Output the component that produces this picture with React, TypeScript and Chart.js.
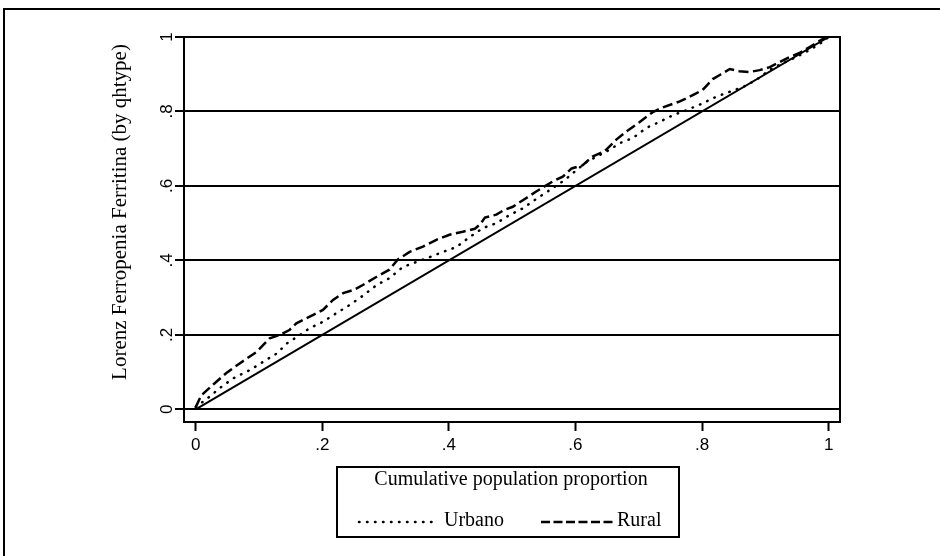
import { useEffect, useRef } from "react";
import { Chart, registerables } from "chart.js";

Chart.register(...registerables);

const xTickValues = [0, 0.2, 0.4, 0.6, 0.8, 1];
const xTickLabels = ["0", ".2", ".4", ".6", ".8", "1"];
const yTickValues = [0, 0.2, 0.4, 0.6, 0.8, 1];
const yTickLabels = ["0", ".2", ".4", ".6", ".8", "1"];

const seriesLabels = ["Urbano", "Rural"];
const xAxisTitle = "Cumulative population proportion";
const yAxisTitle = "Lorenz Ferropenia Ferritina (by qhtype)";

const urbanoX = [0, 0.019, 0.038, 0.059, 0.085, 0.106, 0.128, 0.144, 0.165, 0.18, 0.201, 0.222, 0.243, 0.264, 0.286, 0.306, 0.327, 0.349, 0.37, 0.391, 0.412, 0.433, 0.454, 0.475, 0.496, 0.517, 0.538, 0.564, 0.583, 0.602, 0.618, 0.638, 0.654, 0.67, 0.691, 0.712, 0.733, 0.754, 0.776, 0.796, 0.823, 0.844, 0.865, 0.886, 0.907, 0.928, 0.949, 0.97, 0.991, 1.0];
const urbanoY = [0.006, 0.03, 0.057, 0.083, 0.105, 0.127, 0.15, 0.177, 0.2, 0.218, 0.235, 0.258, 0.28, 0.305, 0.334, 0.352, 0.382, 0.396, 0.409, 0.423, 0.436, 0.463, 0.487, 0.5, 0.522, 0.54, 0.565, 0.594, 0.616, 0.643, 0.665, 0.683, 0.697, 0.715, 0.729, 0.756, 0.772, 0.79, 0.804, 0.818, 0.84, 0.853, 0.866, 0.885, 0.912, 0.93, 0.946, 0.965, 0.987, 1.0];

const ruralX = [0, 0.009, 0.03, 0.048, 0.07, 0.096, 0.117, 0.133, 0.148, 0.159, 0.185, 0.201, 0.217, 0.233, 0.25, 0.264, 0.286, 0.306, 0.319, 0.338, 0.359, 0.381, 0.401, 0.422, 0.441, 0.449, 0.457, 0.475, 0.488, 0.501, 0.52, 0.538, 0.564, 0.58, 0.594, 0.611, 0.627, 0.646, 0.665, 0.681, 0.701, 0.722, 0.738, 0.765, 0.79, 0.801, 0.817, 0.828, 0.844, 0.859, 0.875, 0.891, 0.907, 0.923, 0.938, 0.954, 0.97, 0.991, 1.0];
const ruralY = [0.006, 0.038, 0.07, 0.097, 0.124, 0.154, 0.191, 0.2, 0.213, 0.231, 0.253, 0.267, 0.294, 0.312, 0.321, 0.334, 0.356, 0.375, 0.402, 0.423, 0.437, 0.456, 0.469, 0.477, 0.485, 0.496, 0.515, 0.523, 0.536, 0.544, 0.565, 0.585, 0.612, 0.625, 0.647, 0.655, 0.679, 0.693, 0.725, 0.747, 0.771, 0.798, 0.811, 0.827, 0.848, 0.858, 0.887, 0.898, 0.914, 0.908, 0.906, 0.911, 0.919, 0.933, 0.946, 0.957, 0.973, 0.995, 1.0];

const equalityX = [0, 1];
const equalityY = [0, 1];

const toPoints = (xs: number[], ys: number[]) => xs.map((x, i) => ({ x, y: ys[i] }));

const URBANO_DASH = [0.5, 7.5];
const RURAL_DASH = [10, 4.5];

const framePlugin = {
  id: "stataFrame",
  afterDraw(chart: any) {
    const ctx = chart.ctx;
    const a = chart.chartArea;
    ctx.save();
    ctx.strokeStyle = "#000";
    ctx.fillStyle = "#000";
    ctx.setLineDash([]);
    // plot region frame
    ctx.lineWidth = 2;
    ctx.strokeRect(a.left, a.top, a.right - a.left, a.bottom - a.top);
    // outer graph border
    ctx.beginPath();
    ctx.moveTo(4, 600);
    ctx.lineTo(4, 9);
    ctx.lineTo(1000, 9);
    ctx.stroke();

    // y-axis title
    ctx.save();
    ctx.translate(120, 212);
    ctx.rotate(-Math.PI / 2);
    ctx.font = '21px "Liberation Serif"';
    ctx.textAlign = "center";
    ctx.textBaseline = "middle";
    ctx.fillText(yAxisTitle, 0, 0);
    ctx.restore();

    // legend box with x-axis title
    const bx = 337, by = 467, bw = 342, bh = 70;
    ctx.lineWidth = 2;
    ctx.strokeRect(bx, by, bw, bh);
    ctx.font = '20px "Liberation Serif"';
    ctx.textBaseline = "middle";
    ctx.textAlign = "center";
    ctx.fillText(xAxisTitle, bx + bw / 2 + 3, 480);

    ctx.textAlign = "left";
    const rowY = 522;
    // Urbano
    ctx.lineWidth = 2.5;
    ctx.lineCap = "round";
    ctx.setLineDash(URBANO_DASH);
    ctx.beginPath();
    ctx.moveTo(359, rowY);
    ctx.lineTo(432, rowY);
    ctx.stroke();
    ctx.lineCap = "butt";
    ctx.setLineDash([]);
    ctx.fillText(seriesLabels[0], 444, rowY - 1);
    // Rural
    ctx.lineWidth = 2.5;
    ctx.setLineDash([9, 3.5]);
    ctx.beginPath();
    ctx.moveTo(541, rowY);
    ctx.lineTo(615, rowY);
    ctx.stroke();
    ctx.setLineDash([]);
    ctx.fillText(seriesLabels[1], 617, rowY - 1);
    ctx.restore();
  },
};

export default function App() {
  const ref = useRef<HTMLCanvasElement | null>(null);

  useEffect(() => {
    if (!ref.current) return;
    Chart.defaults.font.family = '"Liberation Sans", Arial, sans-serif';
    Chart.defaults.color = "#000";
    const chart = new Chart(ref.current, {
      type: "scatter",
      data: {
        datasets: [
          {
            label: seriesLabels[0],
            data: toPoints(urbanoX, urbanoY),
            showLine: true,
            borderColor: "#000",
            borderWidth: 2.5,
            borderDash: URBANO_DASH,
            borderCapStyle: "round",
            pointRadius: 0,
            tension: 0,
          },
          {
            label: seriesLabels[1],
            data: toPoints(ruralX, ruralY),
            showLine: true,
            borderColor: "#000",
            borderWidth: 2.5,
            borderDash: RURAL_DASH,
            pointRadius: 0,
            tension: 0,
          },
          {
            label: "Equality",
            data: toPoints(equalityX, equalityY),
            showLine: true,
            borderColor: "#000",
            borderWidth: 2,
            pointRadius: 0,
          },
        ],
      },
      options: {
        animation: false,
        responsive: false,
        devicePixelRatio: 1,
        layout: { padding: { left: 0, top: 37, right: 100, bottom: 0 } },
        plugins: {
          legend: { display: false },
          tooltip: { enabled: false },
          title: { display: false },
        },
        scales: {
          x: {
            type: "linear",
            min: -0.0185,
            max: 1.018,
            afterBuildTicks: (s: any) => {
              s.ticks = xTickValues.map((v) => ({ value: v }));
            },
            afterFit: (s: any) => {
              s.height = 134;
            },
            ticks: {
              callback: (_v: any, i: number) => xTickLabels[i],
              font: { size: 17 },
              color: "#000",
              padding: 4,
              maxRotation: 0,
              minRotation: 0,
              autoSkip: false,
            },
            grid: {
              display: true,
              drawOnChartArea: false,
              drawTicks: true,
              tickLength: 9,
              tickColor: "#000",
              tickWidth: 2,
              color: "#000",
            },
            border: { display: false },
          },
          y: {
            type: "linear",
            min: -0.034,
            max: 1.0,
            afterBuildTicks: (s: any) => {
              s.ticks = yTickValues.map((v) => ({ value: v }));
            },
            afterFit: (s: any) => {
              s.width = 184;
            },
            ticks: {
              callback: (_v: any, i: number) => yTickLabels[i],
              font: { size: 17 },
              color: "#000",
              padding: 1,
              minRotation: 90,
              maxRotation: 90,
              crossAlign: "center",
              autoSkip: false,
            },
            grid: {
              display: true,
              drawOnChartArea: true,
              drawTicks: true,
              tickLength: 9,
              color: "#000",
              lineWidth: 2,
              tickColor: "#000",
              tickWidth: 2,
            },
            border: { display: false },
            title: { display: false },
          },
        },
      },
      plugins: [framePlugin],
    } as any);
    return () => chart.destroy();
  }, []);

  return (
    <div
      style={{
        position: "fixed",
        left: 0,
        top: 0,
        width: 940,
        height: 556,
        background: "#fff",
        overflow: "hidden",
      }}
    >
      <canvas ref={ref} width={940} height={556} style={{ display: "block" }} />
    </div>
  );
}
